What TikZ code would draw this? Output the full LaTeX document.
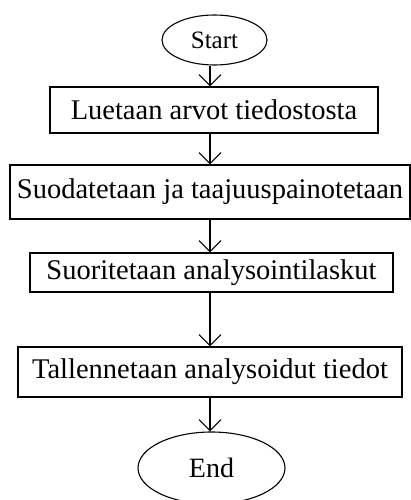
\documentclass[tikz,border=0pt]{standalone}
\usepackage{fontspec}
\setmainfont{Liberation Serif}
\usetikzlibrary{arrows.meta,shapes.geometric}
\begin{document}
\begin{tikzpicture}[x=1pt,y=-1pt,
  stepbox/.style={draw,line width=1.3pt,rectangle,inner sep=0pt,font=\fontsize{28.5}{31}\selectfont},
  term/.style={draw,line width=1.1pt,ellipse,inner sep=0pt},
  arr/.style={line width=1.1pt,-{Straight Barb[length=11pt,width=22pt,line width=1.1pt]}}]
\useasboundingbox (0,0) rectangle (411,500);
\fill[white] (0,0) rectangle (411,500);
\coordinate (ax) at (210,0);
\node[term,minimum width=105pt,minimum height=50pt,font=\fontsize{25}{28}\selectfont] (start) at (214.5,40) {Start};
\node[stepbox,minimum width=328pt,minimum height=46pt] (b1) at (214,110) {Luetaan arvot tiedostosta};
\node[stepbox,minimum width=400pt,minimum height=54pt] (b2) at (210,192) {Suodatetaan ja taajuuspainotetaan};
\node[stepbox,minimum width=363pt,minimum height=39pt] (b3) at (211.5,272.5) {Suoritetaan analysointilaskut};
\node[stepbox,minimum width=384pt,minimum height=50pt] (b4) at (210,372) {Tallennetaan analysoidut tiedot};
\node[term,minimum width=147pt,minimum height=72pt,font=\fontsize{28}{31}\selectfont] (end) at (211.5,468) {End};
\draw[arr] (start.south -| ax) -- (b1.north -| ax);
\draw[arr] (b1.south -| ax) -- (b2.north -| ax);
\draw[arr] (b2.south -| ax) -- (b3.north -| ax);
\draw[arr] (b3.south -| ax) -- (b4.north -| ax);
\draw[arr] (b4.south -| ax) -- (end.north -| ax);
\end{tikzpicture}
\end{document}
